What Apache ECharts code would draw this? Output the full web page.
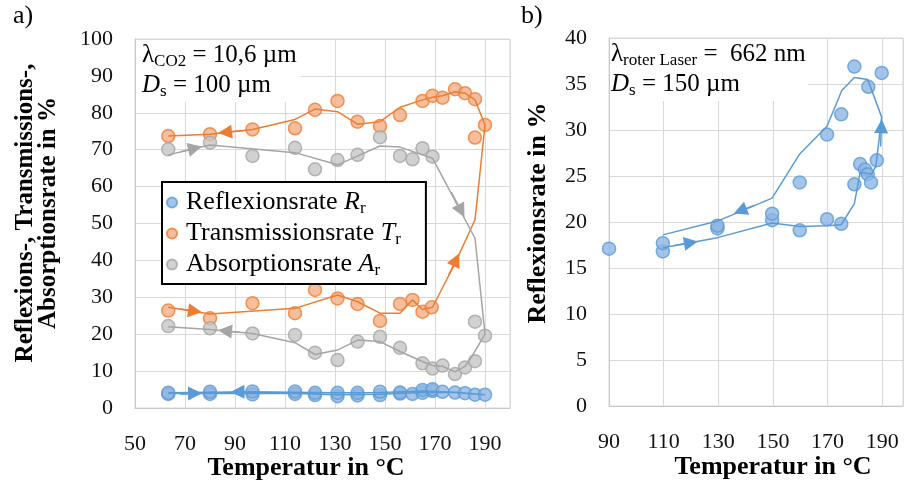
<!DOCTYPE html>
<html><head><meta charset="utf-8">
<script src="https://cdn.jsdelivr.net/npm/echarts@6/dist/echarts.min.js"></script>
<style>html,body{margin:0;padding:0;background:#fff}#c{width:906px;height:485px}</style>
</head><body><div id="c"></div>
<script>
// ---------- Chart a) CO2 laser, Ds = 100 µm ----------
const xTicksA = [50, 70, 90, 110, 130, 150, 170, 190];
const yTicksA = [0, 10, 20, 30, 40, 50, 60, 70, 80, 90, 100];
const reflexA = [[63.3,3.8],[63.3,4.1],[80,3.8],[80,4.4],[97,3.7],[97,4.5],[114,3.8],[114,4.5],[122,3.5],[122,4.1],[131,3.2],[131,4.1],[139,3.4],[139,4.1],[148,3.5],[148,4.4],[156,3.9],[156,4.2],[161,3.8],[165,4.1],[165,4.9],[169,4.6],[169,5.1],[173,4.4],[178,4.2],[182,4.0],[186,3.6],[190,3.6]];
const transA = [[63.3,73.7],[80,74.2],[97,75.5],[114,75.8],[122,80.8],[131,83.2],[139,77.6],[148,76.4],[156,79.4],[165,83.2],[169,84.6],[173,84.1],[178,86.4],[182,85.3],[186,83.7],[190,76.7],[186,73.3],
  [63.3,26.4],[80,24.3],[97,28.4],[114,25.7],[122,32.0],[131,29.7],[139,28.2],[148,23.6],[156,28.2],[161,29.3],[165,26.1],[168.7,27.3]];
const absorpA = [[63.3,70.1],[80,71.9],[97,68.3],[114,70.5],[122,64.7],[131,67.2],[139,68.6],[148,73.4],[156,68.3],[161,67.4],[165,70.4],[169,68.1],
  [63.3,22.2],[80,21.6],[97,20.2],[114,19.8],[122,15.0],[131,13.0],[139,18.0],[148,19.3],[156,16.3],[165,12.1],[169,10.7],[173,11.5],[178,9.2],[182,11.0],[186,12.7],[186,23.4],[190,19.6]];
const reflexLineA = [[63.3,3.9],[80,4.0],[114,3.9],[131,3.6],[148,3.7],[165,4.2],[178,4.2],[190,3.6],[178,4.3],[165,4.6],[148,4.2],[131,4.1],[114,4.3],[97,4.4],[80,4.3],[63.3,4.1]];
const transLineA = [[63.3,27.3],[80,25.5],[114,27.0],[131,30.6],[139,28.8],[148,25.7],[156,25.7],[161,29.3],[165,26.7],[169,27.3],[178,39.2],[186,51.0],[190,76.7],[186,83.5],[182,85.3],[178,85.7],[173,84.6],[169,84.2],[165,83.5],[156,81.5],[148,77.6],[139,76.9],[131,80.3],[122,81.0],[114,78.2],[97,75.5],[80,74.2],[63.3,73.7]];
const absorpLineA = [[63.3,68.6],[80,71.3],[114,69.2],[131,65.9],[148,71.0],[156,70.7],[169,67.7],[186,46.0],[190,20.0],[184.7,13.9],[182,11.3],[178,9.8],[173,11.3],[169,11.5],[165,12.6],[156,15.3],[148,18.0],[139,18.4],[131,15.7],[122,14.5],[114,17.7],[97,20.2],[80,21.3],[63.3,22.0]];
const reflexArrowsA = [[[68,3.9],[74,3.95]], [[97,4.4],[91,4.35]]];
const transArrowsA = [[[93,75.2],[86,74.7]], [[68,26.8],[74,26.2]], [[175.5,36.0],[178.5,40.2]]];
const absorpArrowsA = [[[68,69.4],[74,70.4]], [[176.5,58.5],[180.5,53.4]], [[92,20.5],[86,20.9]]];

// ---------- Chart b) red laser, Ds = 150 µm ----------
const xTicksB = [90, 110, 130, 150, 170, 190];
const yTicksB = [0, 5, 10, 15, 20, 25, 30, 35, 40];
const reflexB = [[90,17.1],[109.7,16.8],[109.7,17.7],[129.7,19.3],[129.7,19.6],[149.7,20.2],[149.7,20.9],[159.8,19.1],[159.8,24.3],[169.8,20.3],[169.8,29.5],[175,19.8],[175,31.7],[179.8,24.1],[179.8,36.9],[181.9,26.3],[183.7,25.7],[184.7,25.2],[184.9,34.7],[185.9,24.3],[188,26.7],[189.8,36.2]];
const reflexLineB = [[109.7,17.2],[129.7,18.3],[149.7,19.9],[159.8,19.5],[169.8,19.6],[175,19.7],[179.8,22.0],[181.9,25.4],[186.1,25.2],[187.7,26.1],[189.8,31.4],[184.7,35.5],[179.8,35.7],[175.2,34.3],[169.8,30.4],[159.8,27.4],[149.7,22.6],[129.7,20.1],[109.7,18.6]];
const reflexArrowsB = [[[189.4,28.2],[189.7,30.4]], [[143,21.8],[138,21.2]], [[114,17.45],[120,17.75]]];

// ---------- styling ----------
const FONT = 'Liberation Serif';
const C = {
  blue: {line:'#5B9BD5', fill:'#8FB5E3'},
  orange: {line:'#ED7D31', fill:'#F4AE84'},
  gray: {line:'#A5A5A5', fill:'#C6C6C6'}
};
const GRID_COLOR = '#D9D9D9';

function xAxisCfg(gi, min, max, ticks) {
  return {
    type:'value', gridIndex: gi, min, max, interval: 20,
    axisLine:{show:true, lineStyle:{color:'#C8C8C8', width:1}},
    axisTick:{show:false},
    splitLine:{show:true, lineStyle:{color:GRID_COLOR, width:1}},
    axisLabel:{margin:25, fontFamily:FONT, fontSize:22, color:'#111',
      formatter: v => ticks.includes(Math.round(v)) && Math.abs(v-Math.round(v))<1e-6 ? String(Math.round(v)) : ''}
  };
}
function yAxisCfg(gi, max, interval) {
  return {
    type:'value', gridIndex: gi, min:0, max, interval,
    axisLine:{show:true, lineStyle:{color:'#C8C8C8', width:1}},
    axisTick:{show:false},
    splitLine:{show:true, lineStyle:{color:GRID_COLOR, width:1}},
    axisLabel:{margin:22, fontFamily:FONT, fontSize:22, color:'#111'}
  };
}
function scatter(name, data, col, gi) {
  return {name, type:'scatter', xAxisIndex:gi, yAxisIndex:gi, data, symbolSize:13, z:3,
    itemStyle:{color:col.fill, borderColor:col.line, borderWidth:1.5}};
}
function line(data, col, gi) {
  return {type:'line', xAxisIndex:gi, yAxisIndex:gi, data, showSymbol:false, symbol:'none', z:4,
    lineStyle:{color:col.line, width:1.5}, silent:true};
}
function arrows(segs, col, gi) {
  return {type:'lines', coordinateSystem:'cartesian2d', xAxisIndex:gi, yAxisIndex:gi, z:5,
    symbol:['none','triangle'], symbolSize:[12,14],
    lineStyle:{color:col.line, width:1.5, opacity:1},
    itemStyle:{color:col.line},
    data: segs.map(s => ({coords:s}))};
}

const legendRich = {
  n:{fontFamily:FONT, fontSize:26, color:'#000', lineHeight:28},
  i:{fontFamily:FONT, fontSize:26, fontStyle:'italic', color:'#000', lineHeight:28},
  s:{fontFamily:FONT, fontSize:17, color:'#000', lineHeight:28, padding:[12,0,0,0]}
};
const noteRich = {
  n:{fontFamily:FONT, fontSize:25, color:'#000', lineHeight:30},
  i:{fontFamily:FONT, fontSize:25, fontStyle:'italic', color:'#000', lineHeight:30},
  s:{fontFamily:FONT, fontSize:17, color:'#000', lineHeight:30, padding:[13,0,0,0]}
};

const chart = echarts.init(document.getElementById('c'), null, {renderer:'canvas'});
chart.setOption({
  animation:false,
  backgroundColor:'#fff',
  grid:[
    {left:135, top:39, width:375, height:369, show:true, borderColor:GRID_COLOR, borderWidth:1, backgroundColor:'transparent'},
    {left:609, top:38, width:296, height:368, show:true, borderColor:GRID_COLOR, borderWidth:1, backgroundColor:'transparent'}
  ],
  xAxis:[xAxisCfg(0, 50, 200, xTicksA), xAxisCfg(1, 90, 197.6, xTicksB)],
  yAxis:[yAxisCfg(0, 100, 10), yAxisCfg(1, 40, 5)],
  legend:{
    data:['Reflexionsrate','Transmissionsrate','Absorptionsrate'],
    orient:'vertical', left:162, top:182,
    padding:[6, 25, 5, 4], itemGap:2, itemWidth:18, itemHeight:10, icon:'circle',
    borderColor:'#000', borderWidth:2, backgroundColor:'#fff',
    selectedMode:false,
    textStyle:{fontFamily:FONT, fontSize:26, color:'#000', rich:legendRich},
    formatter: name => ({
      'Reflexionsrate':'{n|Reflexionsrate }{i|R}{s|r}',
      'Transmissionsrate':'{n|Transmissionsrate }{i|T}{s|r}',
      'Absorptionsrate':'{n|Absorptionsrate }{i|A}{s|r}'
    })[name]
  },
  series:[
    scatter('Reflexionsrate', reflexA, C.blue, 0),
    scatter('Transmissionsrate', transA, C.orange, 0),
    scatter('Absorptionsrate', absorpA, C.gray, 0),
    line(reflexLineA, C.blue, 0),
    line(transLineA, C.orange, 0),
    line(absorpLineA, C.gray, 0),
    arrows(reflexArrowsA, C.blue, 0),
    arrows(transArrowsA, C.orange, 0),
    arrows(absorpArrowsA, C.gray, 0),
    scatter('Reflexionsrate b', reflexB, C.blue, 1),
    line(reflexLineB, C.blue, 1),
    arrows(reflexArrowsB, C.blue, 1)
  ],
  graphic:[
    {type:'text', left:13, top:3, style:{text:'a)', font:'26px "Liberation Serif"', fill:'#000'}},
    {type:'text', left:521, top:3, style:{text:'b)', font:'26px "Liberation Serif"', fill:'#000'}},
    {type:'text', x:37, y:213, rotation:Math.PI/2, style:{text:'Reflexions-, Transmissions-,\nAbsorptionsrate in %', font:'bold 25px "Liberation Serif"', fill:'#000', align:'center', verticalAlign:'middle', lineHeight:23}},
    {type:'text', x:538, y:213, rotation:Math.PI/2, style:{text:'Reflexionsrate in %', font:'bold 26px "Liberation Serif"', fill:'#000', align:'center', verticalAlign:'middle'}},
    {type:'text', x:306, y:468, style:{text:'Temperatur in °C', font:'bold 26px "Liberation Serif"', fill:'#000', align:'center', verticalAlign:'middle'}},
    {type:'text', x:773, y:467, style:{text:'Temperatur in °C', font:'bold 26px "Liberation Serif"', fill:'#000', align:'center', verticalAlign:'middle'}},
    {type:'text', left:136, top:40, z:10, style:{text:'{n|λ}{s|CO2}{n| = 10,6 µm}\n{i|D}{s|s}{n| = 100 µm}', rich:noteRich, backgroundColor:'#fff', padding:[0,4,2,6]}},
    {type:'text', left:610, top:39, z:10, style:{text:'{n|λ}{s|roter Laser}{n| =  662 nm}\n{i|D}{s|s}{n| = 150 µm}', rich:noteRich, backgroundColor:'#fff', padding:[0,2,2,1]}}
  ]
});
</script></body></html>
